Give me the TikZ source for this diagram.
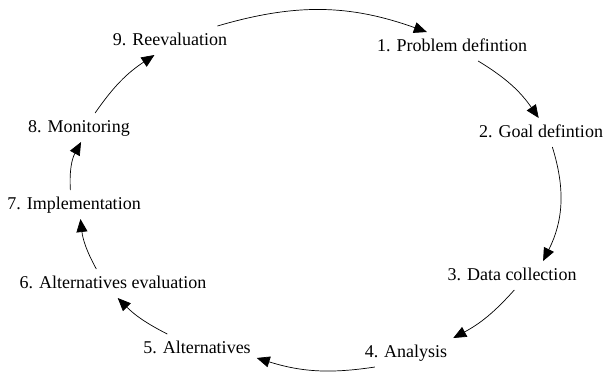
\documentclass[tikz,border=0pt]{standalone}
\usepackage{fontspec}
\setmainfont{Liberation Serif}
\usepackage{tikz}
\usetikzlibrary{arrows.meta}
\tikzstyle{stage} = [inner sep=1pt, outer sep=2pt, anchor=base,
  text height=6.5pt, text depth=2pt, font=\fontsize{9}{11}\selectfont]
\tikzstyle{arrow} = [line width=0.35pt, -{Triangle[length=6.5pt, width=5.5pt]}]

\begin{document}
\begin{tikzpicture}[x=0.5pt, y=-0.5pt]
    \useasboundingbox (0,0) rectangle (605,372);
    \node[stage] (n1) at (452,51) {1. Problem defintion};
    \node[stage] (n2) at (541,137) {2. Goal defintion};
    \node[stage] (n3) at (512,280) {3. Data collection};
    \node[stage] (n4) at (406,357) {4. Analysis};
    \node[stage] (n5) at (197,353) {5. Alternatives};
    \node[stage] (n6) at (113,288) {6. Alternatives evaluation};
    \node[stage] (n7) at (74,209) {7. Implementation};
    \node[stage] (n8) at (79,132) {8. Monitoring};
    \node[stage] (n9) at (170,45) {9. Reevaluation};
    \draw[arrow] (n9.17) to[bend left=18] (n1.150);
    \draw[arrow] (n1.331) to[bend left=12] (n2.99);
    \draw[arrow] (n2.308) to[bend left=22] (n3.25);
    \draw[arrow] (n3.279) to[bend left=10] (n4.north east);
    \draw[arrow] (n4.205) to[bend left=13] (n5.351);
    \draw[arrow] (n5.154) to[bend left=9] (n6.288);
    \draw[arrow] (n6.139) to[bend left=11] (n7.294);
    \draw[arrow] (n7.104) to[bend left=16] (n8.278);
    \draw[arrow] (n8.42) to[bend left=11] (n9.223);
  \end{tikzpicture}
\end{document}
